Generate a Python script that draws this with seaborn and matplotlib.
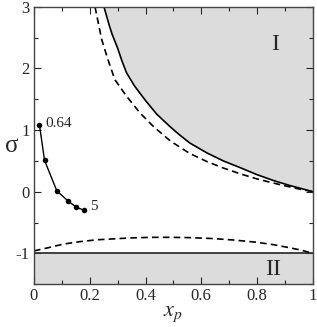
import numpy as np
import pandas as pd
import matplotlib
matplotlib.use('Agg')
import matplotlib.pyplot as plt
import seaborn as sns
from matplotlib.ticker import MultipleLocator

# solid boundary of region I
x_solid = [0.251, 0.26, 0.27, 0.28, 0.30, 0.315, 0.332, 0.36, 0.40, 0.44, 0.487, 0.52, 0.559,
           0.62, 0.679, 0.74, 0.798, 0.86, 0.918, 0.96, 1.0]
s_solid = [3.0, 2.86, 2.70, 2.56, 2.33, 2.13, 1.93, 1.72, 1.48, 1.26, 1.06, 0.93, 0.79,
           0.63, 0.50, 0.39, 0.28, 0.18, 0.10, 0.05, 0.0]

# upper dashed curve
x_dash_up = [0.219, 0.243, 0.265, 0.290, 0.332, 0.38, 0.428, 0.49, 0.559, 0.62, 0.679, 0.74, 0.798, 0.85, 0.906, 0.95, 1.0]
s_dash_up = [3.0, 2.47, 2.15, 1.82, 1.55, 1.28, 1.06, 0.82, 0.62, 0.49, 0.385, 0.29, 0.21, 0.15, 0.09, 0.045, 0.0]

# lower dashed curve
x_dash_lo = [0.0, 0.05, 0.105, 0.165, 0.225, 0.285, 0.344, 0.42, 0.487, 0.56, 0.643, 0.72, 0.798, 0.86, 0.918, 0.96, 1.0]
s_dash_lo = [-0.96, -0.91, -0.85, -0.81, -0.78, -0.765, -0.75, -0.74, -0.74, -0.745, -0.76, -0.785, -0.82, -0.86, -0.91, -0.95, -1.0]

# data points
x_pts = [0.020, 0.038, 0.082, 0.122, 0.152, 0.178]
s_pts = [1.08, 0.51, 0.016, -0.15, -0.25, -0.30]
pt_labels = ['0.64', '5']

sns.set_style('ticks')
plt.rcParams['font.family'] = ['Liberation Serif', 'DejaVu Serif']
plt.rcParams['mathtext.fontset'] = 'stix'

fig = plt.figure(figsize=(3.17, 3.27), dpi=100)
ax = fig.add_axes([0.107, 0.131, 0.880, 0.848])

gray = '#dcdcdc'
ax.fill_between(x_solid, s_solid, 3.0, color=gray, lw=0, zorder=0)
ax.axhspan(-1.5, -1.0, color=gray, lw=0, zorder=0)
ax.axhline(-1.0, color='#333333', lw=1.3, zorder=2)

sns.lineplot(x=x_solid, y=s_solid, sort=False, estimator=None, color='black', lw=1.2, ax=ax)
sns.lineplot(x=x_dash_up, y=s_dash_up, sort=False, estimator=None, color='black', lw=1.2,
             ax=ax, dashes=False, linestyle=(0, (4, 2.5)))
sns.lineplot(x=x_dash_lo, y=s_dash_lo, sort=False, estimator=None, color='black', lw=1.2,
             ax=ax, dashes=False, linestyle=(0, (4, 2.5)))
sns.lineplot(x=x_pts, y=s_pts, sort=False, estimator=None, color='black', lw=1.0,
             marker='o', markersize=4, markeredgewidth=0, ax=ax)

ax.text(x_pts[0] + 0.022, s_pts[0] + 0.02, pt_labels[0], fontsize=11, va='center', ha='left')
ax.text(x_pts[-1] + 0.022, s_pts[-1] + 0.06, pt_labels[1], fontsize=11, va='center', ha='left')

ax.text(0.864, 2.39, 'I', fontsize=17, ha='center', va='center')
ax.text(0.858, -1.27, 'II', fontsize=17, ha='center', va='center')

ax.set_xlim(0, 1)
ax.set_ylim(-1.5, 3)
ax.xaxis.set_minor_locator(MultipleLocator(0.1))
ax.yaxis.set_minor_locator(MultipleLocator(0.5))
ax.set_xticks(np.arange(0, 1.01, 0.2))
ax.set_xticklabels(['0', '0.2', '0.4', '0.6', '0.8', '1'])
ax.set_yticks([-1, 0, 1, 2, 3])
ax.set_yticklabels(['-1', '0', '1', '2', '3'])
ax.tick_params(which='both', direction='in', top=True, right=True, labelsize=12, pad=3)
ax.tick_params(which='major', length=5, width=0.8)
ax.tick_params(which='minor', length=3, width=0.8)
for sp in ax.spines.values():
    sp.set_linewidth(1.0)
    sp.set_color('#444444')

ax.set_xlabel('$x_p$', fontsize=16, labelpad=0)
ax.set_ylabel('σ', fontsize=18, rotation=0, ha='center', va='center')
ax.yaxis.set_label_coords(-0.078, 0.50)

fig.savefig('out.png', dpi=100)
